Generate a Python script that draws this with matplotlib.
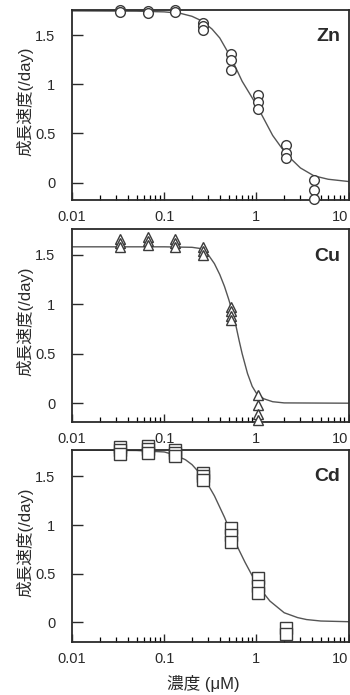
import matplotlib
matplotlib.use("Agg")
import matplotlib.pyplot as plt
from matplotlib.ticker import LogLocator, NullFormatter

plt.rcParams['font.family'] = ['Liberation Sans', 'Noto Sans CJK JP']

# Measured growth rates (/day), replicates at each concentration (uM)
ZN_X = [0.033, 0.033, 0.066, 0.066, 0.13, 0.13, 0.26, 0.26, 0.26,
        0.53, 0.53, 0.53, 1.05, 1.05, 1.05, 2.1, 2.1, 2.1, 4.2, 4.2, 4.2]
ZN_Y = [1.75, 1.73, 1.74, 1.72, 1.75, 1.73, 1.62, 1.59, 1.55,
        1.31, 1.25, 1.14, 0.89, 0.82, 0.75, 0.38, 0.30, 0.25, 0.03, -0.07, -0.17]

CU_X = [0.033, 0.033, 0.033, 0.066, 0.066, 0.066, 0.13, 0.13, 0.13,
        0.26, 0.26, 0.26, 0.53, 0.53, 0.53, 0.53, 1.05, 1.05, 1.05, 1.05]
CU_Y = [1.66, 1.62, 1.58, 1.68, 1.64, 1.60, 1.66, 1.62, 1.58,
        1.58, 1.54, 1.50, 0.97, 0.93, 0.88, 0.84, 0.08, -0.02, -0.11, -0.17]

CD_X = [0.033, 0.033, 0.033, 0.066, 0.066, 0.066, 0.13, 0.13, 0.13,
        0.26, 0.26, 0.26, 0.53, 0.53, 0.53, 1.05, 1.05, 1.05, 2.1, 2.1]
CD_Y = [1.80, 1.77, 1.73, 1.81, 1.78, 1.74, 1.77, 1.74, 1.71,
        1.53, 1.50, 1.46, 0.97, 0.90, 0.83, 0.46, 0.37, 0.30, -0.06, -0.12]

# Fitted curves
ZN_CX = [0.01, 0.05, 0.1, 0.15, 0.2, 0.26, 0.33, 0.4, 0.53, 0.7, 0.85, 1.0, 1.25, 1.5, 2.1, 3.0, 4.2, 6.0, 10.0]
ZN_CY = [1.745, 1.742, 1.735, 1.72, 1.69, 1.64, 1.56, 1.47, 1.27, 1.03, 0.90, 0.79, 0.62, 0.48, 0.29, 0.15, 0.07, 0.035, 0.012]

CU_CX = [0.01, 0.1, 0.2, 0.26, 0.3, 0.35, 0.4, 0.45, 0.5, 0.55, 0.6, 0.65, 0.7, 0.8, 0.9, 1.0, 1.2, 1.5, 2.0, 10.0]
CU_CY = [1.58, 1.58, 1.575, 1.56, 1.50, 1.41, 1.30, 1.18, 1.05, 0.92, 0.78, 0.63, 0.50, 0.30, 0.17, 0.10, 0.045, 0.015, 0.003, 0.0]

CD_CX = [0.01, 0.05, 0.1, 0.13, 0.17, 0.2, 0.26, 0.3, 0.35, 0.45, 0.53, 0.65, 0.75, 0.9, 1.0, 1.2, 1.4, 2.0, 2.8, 3.5, 5.0, 10.0]
CD_CY = [1.77, 1.765, 1.75, 1.72, 1.67, 1.62, 1.50, 1.41, 1.30, 1.08, 0.92, 0.74, 0.62, 0.48, 0.40, 0.30, 0.22, 0.10, 0.05, 0.03, 0.015, 0.008]

Y_TICKS = [0, 0.5, 1, 1.5]
Y_LABELS = ["0", "0.5", "1", "1.5"]
X_TICKS = [0.01, 0.1, 1, 10]
X_LABELS = ["0.01", "0.1", "1", "10"]

PANELS = [
    ("Zn", ZN_X, ZN_Y, ZN_CX, ZN_CY, "o", 7.0, (-0.176, 1.754)),
    ("Cu", CU_X, CU_Y, CU_CX, CU_CY, "^", 7.0, (-0.19, 1.76)),
    ("Cd", CD_X, CD_Y, CD_CX, CD_CY, "s", 8.0, (-0.20, 1.77)),
]
BOXES = [(0.206, 0.7122, 0.790, 0.2734),
         (0.206, 0.3928, 0.790, 0.2777),
         (0.206, 0.0763, 0.790, 0.2762)]

ink = "#2a2a2a"
fig = plt.figure(figsize=(3.5, 6.95), dpi=100)

for (name, xs, ys, cx, cy, mk, ms, ylim), box in zip(PANELS, BOXES):
    ax = fig.add_axes(box)
    ax.set_xscale("log")
    ax.set_xlim(0.01, 10)
    ax.set_ylim(*ylim)
    ax.plot(cx, cy, color="#555555", lw=1.0, zorder=2)
    ax.plot(xs, ys, ls="none", marker=mk, ms=ms, mfc="white", mec="#3a3a3a",
            mew=1.0, clip_on=False, zorder=3)

    ax.set_yticks(Y_TICKS, labels=Y_LABELS)
    xt = ax.set_xticks(X_TICKS, labels=X_LABELS)
    xt[-1].label1.set_horizontalalignment("right")
    ax.xaxis.set_minor_locator(LogLocator(base=10, subs=range(2, 10)))
    ax.xaxis.set_minor_formatter(NullFormatter())

    ax.tick_params(axis="y", direction="in", length=8, width=1.0, pad=12,
                   labelsize=10.5, colors=ink, right=False)
    ax.tick_params(axis="x", which="major", direction="in", length=6, width=1.0,
                   pad=7, labelsize=10.5, colors=ink, top=False)
    ax.tick_params(axis="x", which="minor", direction="in", length=3.5,
                   width=0.9, top=False)
    for sp in ax.spines.values():
        sp.set_linewidth(1.3)
        sp.set_color(ink)

    ax.set_ylabel("成長速度(/day)", fontsize=12, color=ink)
    ax.yaxis.set_label_coords(-0.14, 0.52)
    ax.text(0.97, 0.86, name, transform=ax.transAxes, ha="right", va="center",
            fontsize=14, fontweight="bold", color=ink)

fig.text(0.58, 0.004, "濃度 (μM)", ha="center", va="bottom", fontsize=12, color=ink)

fig.savefig("out.png", dpi=100)
